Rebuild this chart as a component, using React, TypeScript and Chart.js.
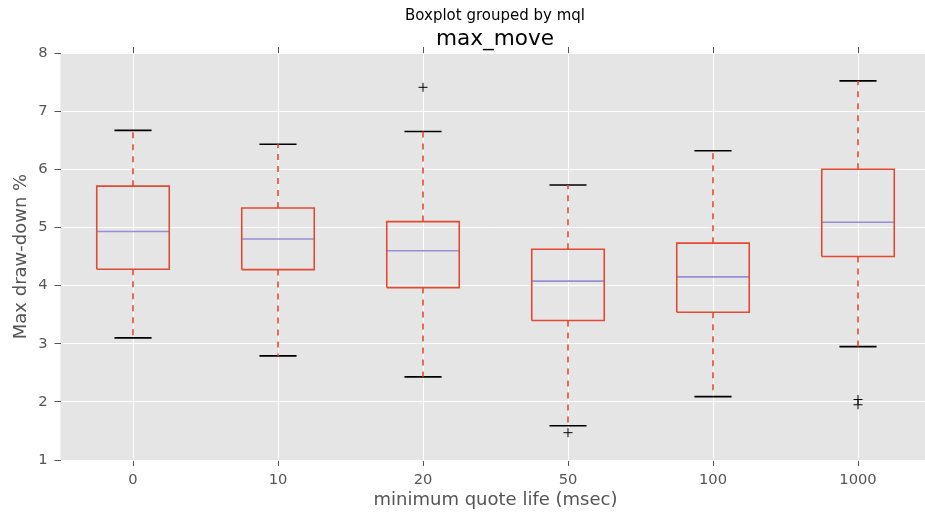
import React, { useEffect, useRef } from "react";
import { Chart, registerables } from "chart.js";

Chart.register(...registerables);

const categories = ["0", "10", "20", "50", "100", "1000"];
const whiskerLow = [3.1, 2.79, 2.43, 1.59, 2.09, 2.95];
const q1 = [4.28, 4.275, 3.965, 3.4, 3.54, 4.5];
const median = [4.93, 4.8, 4.6, 4.076, 4.15, 5.09];
const q3 = [5.71, 5.335, 5.1, 4.625, 4.73, 6.0];
const whiskerHigh = [6.67, 6.43, 6.65, 5.73, 6.32, 7.52];
const outliers: { group: number; value: number }[] = [
  { group: 2, value: 7.41 },
  { group: 3, value: 1.47 },
  { group: 5, value: 2.04 },
  { group: 5, value: 1.95 },
];
const yTicks = [1, 2, 3, 4, 5, 6, 7, 8];

const BOX_HALF = 0.25;
const CAP_HALF = 0.128;
const RED = "#E24A33";
const PURPLE = "#988ED5";
const FONT = "'DejaVu Sans', sans-serif";

function buildDatasets() {
  const ds: any[] = [];
  categories.forEach((_, i) => {
    ds.push({
      type: "line",
      yAxisID: "y",
      data: [
        { x: i - BOX_HALF, y: q1[i] },
        { x: i + BOX_HALF, y: q1[i] },
        { x: i + BOX_HALF, y: q3[i] },
        { x: i - BOX_HALF, y: q3[i] },
        { x: i - BOX_HALF, y: q1[i] },
      ],
      borderColor: RED,
      borderWidth: 1.6,
      pointRadius: 0,
      fill: false,
      tension: 0,
    });
    ds.push({
      type: "line",
      yAxisID: "y",
      data: [
        { x: i - BOX_HALF, y: median[i] },
        { x: i + BOX_HALF, y: median[i] },
      ],
      borderColor: PURPLE,
      borderWidth: 1.6,
      pointRadius: 0,
    });
    ds.push({
      type: "line",
      yAxisID: "y",
      data: [
        { x: i, y: q3[i] },
        { x: i, y: whiskerHigh[i] },
      ],
      borderColor: RED,
      borderWidth: 1.6,
      borderDash: [6, 6],
      pointRadius: 0,
    });
    ds.push({
      type: "line",
      yAxisID: "y",
      data: [
        { x: i, y: q1[i] },
        { x: i, y: whiskerLow[i] },
      ],
      borderColor: RED,
      borderWidth: 1.6,
      borderDash: [6, 6],
      pointRadius: 0,
    });
    ds.push({
      type: "line",
      yAxisID: "y",
      data: [
        { x: i - CAP_HALF, y: whiskerHigh[i] },
        { x: i + CAP_HALF, y: whiskerHigh[i] },
      ],
      borderColor: "#000000",
      borderWidth: 1.6,
      pointRadius: 0,
    });
    ds.push({
      type: "line",
      yAxisID: "y",
      data: [
        { x: i - CAP_HALF, y: whiskerLow[i] },
        { x: i + CAP_HALF, y: whiskerLow[i] },
      ],
      borderColor: "#000000",
      borderWidth: 1.6,
      pointRadius: 0,
    });
  });
  ds.push({
    type: "scatter",
    yAxisID: "y",
    data: outliers.map((o) => ({ x: o.group, y: o.value })),
    pointStyle: "cross",
    pointRadius: 4.5,
    borderColor: "#000000",
    backgroundColor: "#000000",
    borderWidth: 1,
    showLine: false,
  });
  return ds;
}

const bgPlugin = {
  id: "plotBg",
  beforeDraw(chart: any) {
    const { ctx, chartArea } = chart;
    ctx.save();
    ctx.fillStyle = "#E5E5E5";
    ctx.fillRect(chartArea.left, chartArea.top, chartArea.right - chartArea.left, chartArea.bottom - chartArea.top);
    ctx.restore();
  },
};

const catTicks = (scale: any) => {
  scale.ticks = categories.map((_, i) => ({ value: i }));
};

export default function App() {
  const ref = useRef<HTMLCanvasElement | null>(null);
  useEffect(() => {
    if (!ref.current) return;
    const chart = new Chart(ref.current, {
      type: "line",
      data: { datasets: buildDatasets() },
      plugins: [bgPlugin],
      options: {
        animation: false,
        responsive: false,
        maintainAspectRatio: false,
        layout: { padding: { left: 0, right: 0, top: 0, bottom: 0 } },
        plugins: {
          legend: { display: false },
          tooltip: { enabled: false },
          title: {
            display: true,
            text: "Boxplot grouped by mql",
            color: "#000000",
            font: { family: FONT, size: 15, weight: "normal", lineHeight: 1 },
            padding: { top: 9, bottom: 0 },
          },
          subtitle: {
            display: true,
            text: "max_move",
            color: "#000000",
            font: { family: FONT, size: 21.6, weight: "normal", lineHeight: 0.7 },
            padding: { top: 7.44, bottom: 0.44 },
          },
        },
        scales: {
          x: {
            type: "linear",
            position: "bottom",
            min: -0.5,
            max: 5.5,
            afterBuildTicks: catTicks,
            afterFit: (s: any) => {
              s.height = 53;
            },
            border: { display: false },
            grid: {
              color: "#FFFFFF",
              lineWidth: 1,
              tickColor: "#555555",
              tickLength: 6,
              drawTicks: true,
            },
            ticks: {
              color: "#555555",
              font: { family: FONT, size: 14.7 },
              padding: 5,
              maxRotation: 0,
              autoSkip: false,
              callback: (v: any) => categories[Math.round(Number(v))] ?? "",
            },
            title: {
              display: true,
              text: "minimum quote life (msec)",
              color: "#555555",
              font: { family: FONT, size: 18 },
              padding: { top: 0, bottom: 2.2 },
            },
          },
          x2: {
            type: "linear",
            position: "top",
            min: -0.5,
            max: 5.5,
            afterBuildTicks: catTicks,
            afterFit: (s: any) => {
              s.height = 6;
            },
            border: { display: false },
            grid: {
              drawOnChartArea: false,
              tickColor: "#555555",
              tickLength: 6,
            },
            ticks: { display: false },
          },
          y: {
            type: "linear",
            position: "left",
            min: 1,
            max: 8,
            afterBuildTicks: (s: any) => {
              s.ticks = yTicks.map((v) => ({ value: v }));
            },
            afterFit: (s: any) => {
              s.width = 60.5;
            },
            border: { display: false },
            grid: {
              color: "#FFFFFF",
              lineWidth: 1,
              tickColor: "#555555",
              tickLength: 6,
            },
            ticks: {
              color: "#555555",
              font: { family: FONT, size: 14.7 },
              padding: 7,
            },
            title: {
              display: true,
              text: "Max draw-down %",
              color: "#555555",
              font: { family: FONT, size: 18 },
              padding: { top: 10.4, bottom: 0 },
            },
          },
          yRight: {
            type: "linear",
            position: "right",
            min: 1,
            max: 8,
            afterFit: (s: any) => {
              s.width = 59.5;
            },
            border: { display: false },
            grid: { display: false, drawOnChartArea: false, drawTicks: false },
            ticks: { display: false },
          },
        },
      } as any,
    });
    return () => chart.destroy();
  }, []);

  return (
    <div style={{ position: "fixed", left: 0, top: 0, width: 925, height: 513, overflow: "hidden", background: "#FFFFFF" }}>
      <canvas ref={ref} width={990} height={513} style={{ width: 990, height: 513, display: "block" }} />
    </div>
  );
}
